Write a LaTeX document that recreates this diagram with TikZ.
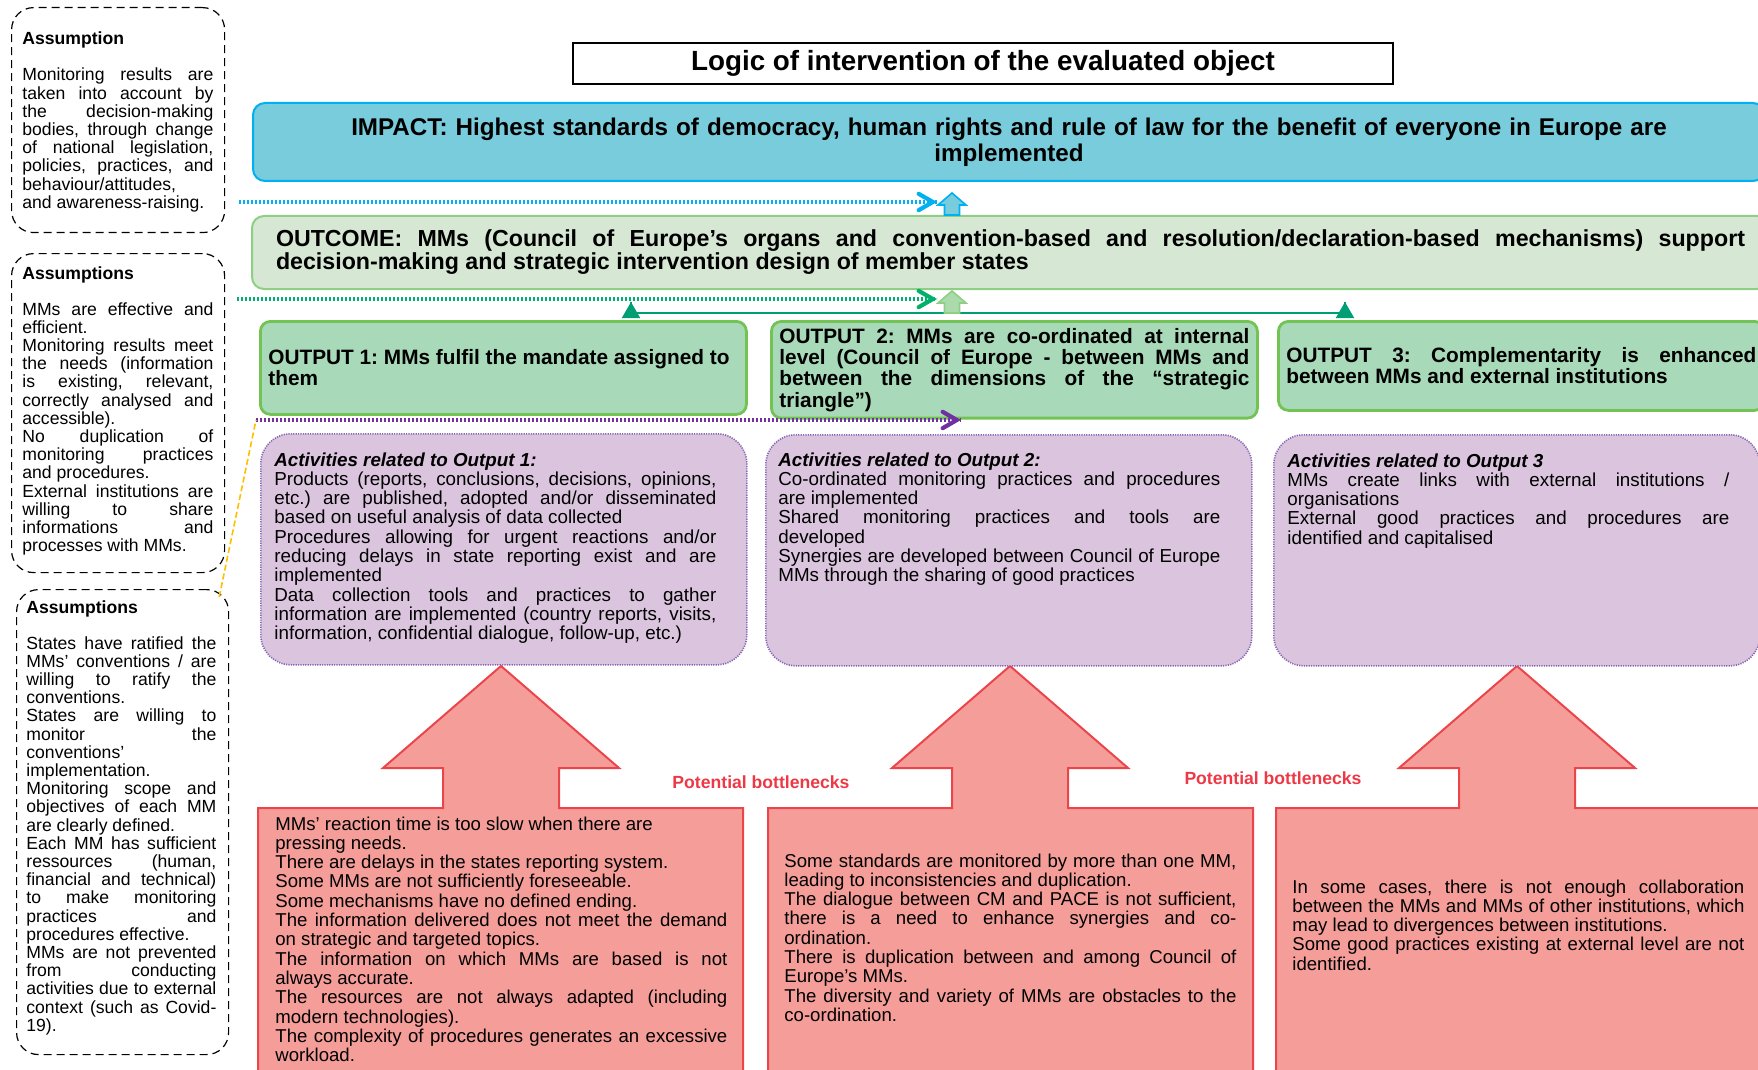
\documentclass[tikz,border=0pt]{standalone}
\usepackage{fontspec}
\setmainfont{Liberation Sans}
\usetikzlibrary{arrows}
\usetikzlibrary{decorations.markings}
\frenchspacing
\definecolor{impfill}{rgb}{0.47, 0.80, 0.86}
\definecolor{impline}{rgb}{0.0, 0.69, 0.94}
\definecolor{outcfill}{rgb}{0.84, 0.91, 0.83}
\definecolor{outcline}{rgb}{0.56, 0.81, 0.52}
\definecolor{outpfill}{rgb}{0.66, 0.85, 0.72}
\definecolor{outpline}{rgb}{0.45, 0.76, 0.33}
\definecolor{actfill}{rgb}{0.86, 0.77, 0.87}
\definecolor{actline}{rgb}{0.52, 0.40, 0.70}
\definecolor{bnfill}{rgb}{0.96, 0.62, 0.60}
\definecolor{bnline}{rgb}{0.92, 0.27, 0.30}
\definecolor{bnred}{rgb}{0.93, 0.22, 0.27}
\definecolor{dblue}{rgb}{0.0, 0.69, 0.94}
\definecolor{dgreen}{rgb}{0.0, 0.69, 0.42}
\definecolor{dpurple}{rgb}{0.44, 0.19, 0.63}
\definecolor{lteal}{rgb}{0.0, 0.62, 0.45}
\definecolor{lorange}{rgb}{1.0, 0.75, 0.0}
\definecolor{upgreen}{rgb}{0.67, 0.86, 0.67}
\newcommand{\tightpar}{\tolerance=10000 \hyphenpenalty=10000 \exhyphenpenalty=10000 }
\tikzset{upto/.style = {decoration={markings,
                                    mark=at position 1 with {\arrow[scale=1.1]{triangle 60}}},
                        postaction={decorate}}}
\tikzset{chev/.style = {decoration={markings,
                                    mark=at position 1 with {\arrow[scale=1.3]{angle 60}}},
                        postaction={decorate}}}
\tikzset{dotline/.style = {line width = 1.6pt, dash pattern = on 1.2pt off 0.8pt}}
\tikzset{titlebox/.style = {draw, line width = 0.7pt, minimum width = 410pt, minimum height = 20.5pt,
                            font = \fontsize{13.9}{16}\selectfont\bfseries}}
\tikzset{impactbox/.style = {draw = impline, fill = impfill, line width = 1pt, rounded corners = 6pt,
                             minimum width = 756pt, minimum height = 39pt, text width = 740pt,
                             align = center, font = \fontsize{12.1}{13}\selectfont\bfseries}}
\tikzset{outcomebox/.style = {draw = outcline, fill = outcfill, line width = 1pt, rounded corners = 6pt,
                              anchor = north west, inner xsep = 12pt, text width = 734.5pt,
                              minimum height = 36.5pt, align = justify,
                              font = \fontsize{11.6}{11.5}\selectfont\bfseries\tightpar}}
\tikzset{outputbox/.style = {draw = outpline, fill = outpfill, line width = 1.4pt, rounded corners = 5pt,
                             anchor = north west, inner xsep = 4pt, text width = 235pt,
                             minimum height = 46.5pt, align = justify,
                             font = \fontsize{10.4}{10.65}\selectfont\bfseries\tightpar}}
\tikzset{actbox/.style = {draw = actline, fill = actfill, line width = 0.8pt,
                          dash pattern = on 0.6pt off 0.6pt, rounded corners = 15pt,
                          anchor = north west, minimum width = 243pt, minimum height = 115.5pt}}
\tikzset{acttext/.style = {anchor = base west, inner sep = 0, text width = 221pt, align = justify,
                           font = \fontsize{9.4}{9.65}\selectfont\tightpar}}
\tikzset{bneck/.style = {draw = bnline, fill = bnfill, line width = 1pt}}
\tikzset{bntext/.style = {anchor = base west, inner sep = 0, text width = 226pt, align = justify,
                          font = \fontsize{9.3}{9.65}\selectfont\tightpar}}
\tikzset{bnlabel/.style = {text = bnred, font = \fontsize{8.8}{10}\selectfont\bfseries}}
\tikzset{assbox/.style = {draw, line width = 0.6pt, dash pattern = on 4pt off 2.5pt,
                          rounded corners = 11pt, anchor = north west, minimum width = 106.5pt}}
\tikzset{asstext/.style = {anchor = base west, inner sep = 0, text width = 95.5pt, align = justify,
                           font = \fontsize{8.8}{9.1}\selectfont\tightpar}}

\begin{document}
\begin{tikzpicture}[x = 0.5pt, y = -0.5pt]
    \useasboundingbox (0, 0) rectangle (1758, 1070);
    \clip (0, 0) rectangle (1758, 1070);

    % assumptions
    \node [assbox, minimum height = 112.5pt] (assum1) at (11, 7) {};
    \node [assbox, minimum height = 159.5pt] (assum2) at (11, 253) {};
    \node [assbox, minimum width = 106pt, minimum height = 232.5pt] (assum3) at (16, 589) {};
    \node [asstext] (assum1txt) at (22, 45) {\textbf{Assumption}\par\vspace{8.9pt}
      Monitoring results are\linebreak taken into account by\linebreak the decision-making\linebreak
      bodies, through change\linebreak of national legislation,\linebreak policies, practices, and\linebreak
      behaviour/attitudes,\newline and awareness-raising.};
    \node [asstext] (assum2txt) at (22, 279) {\textbf{Assumptions}\par\vspace{8.9pt}
      MMs are effective and\linebreak efficient.\par
      Monitoring results meet\linebreak the needs (information\linebreak is existing, relevant,\linebreak
      correctly analysed and\linebreak accessible).\par
      No duplication of\linebreak monitoring practices\linebreak and procedures.\par
      External institutions are\linebreak willing to share\linebreak informations and\linebreak
      processes with MMs.};
    \node [asstext, text width = 95pt] (assum3txt) at (26, 613) {\textbf{Assumptions}\par\vspace{8.9pt}
      States have ratified the\linebreak MMs' conventions / are\linebreak willing to ratify the\linebreak
      conventions.\par
      States are willing to\linebreak monitor the\linebreak conventions'\newline implementation.\par
      Monitoring scope and\linebreak objectives of each MM\linebreak are clearly defined.\par
      Each MM has sufficient\linebreak ressources (human,\linebreak financial and technical)\linebreak
      to make monitoring\linebreak practices and\linebreak procedures effective.\par
      MMs are not prevented\linebreak from conducting\linebreak activities due to external\linebreak
      context (such as Covid-\linebreak 19).};

    % logic of intervention
    \node [titlebox] (title) at (983, 63.5) {Logic of intervention of the evaluated object};
    \node [impactbox] (impact) at (1009, 142) {IMPACT: Highest standards of democracy, human rights
      and rule of law for the benefit of everyone in Europe are\\ implemented};
    \node [outcomebox] (outcome) at (251, 215) {OUTCOME: MMs (Council of Europe’s organs and
      convention-based and resolution/declaration-based mechanisms) support\linebreak
      decision-making and strategic intervention design of member states};

    \node [outputbox] (out1) at (259, 320) {OUTPUT 1: MMs fulfil the mandate assigned to\newline them};
    \node [outputbox] (out2) at (770, 320) {OUTPUT 2: MMs are co-ordinated at internal\linebreak
      level (Council of Europe - between MMs and\linebreak between the dimensions of the “strategic\linebreak
      triangle”)};
    \node [outputbox, minimum height = 44.5pt] (out3) at (1277, 320) {OUTPUT 3: Complementarity is
      enhanced\linebreak between MMs and external institutions};

    % bottlenecks
    \foreach \cx/\lx/\rx in {501/258/743, 1010/768/1253, 1517/1276/1790} {
      \draw [bneck] (\lx, 1090) -- (\lx, 808) -- ({\cx-58}, 808) -- ({\cx-58}, 768)
        -- ({\cx-118}, 768) -- (\cx, 666) -- ({\cx+118}, 768) -- ({\cx+58}, 768)
        -- ({\cx+58}, 808) -- (\rx, 808) -- (\rx, 1090) -- cycle;
    }
    \node [bnlabel] (pb1) at (761, 782) {Potential bottlenecks};
    \node [bnlabel] (pb2) at (1273, 778) {Potential bottlenecks};

    \node [bntext] (bn1) at (275, 830) {MMs' reaction time is too slow when there are\newline pressing needs.\par
      There are delays in the states reporting system.\par
      Some MMs are not sufficiently foreseeable.\par
      Some mechanisms have no defined ending.\par
      The information delivered does not meet the demand\linebreak on strategic and targeted topics.\par
      The information on which MMs are based is not\linebreak always accurate.\par
      The resources are not always adapted (including\linebreak modern technologies).\par
      The complexity of procedures generates an excessive\linebreak workload.};
    \node [bntext] (bn2) at (784, 867) {Some standards are monitored by more than one MM,\linebreak
      leading to inconsistencies and duplication.\par
      The dialogue between CM and PACE is not sufficient,\linebreak there is a need to enhance
      synergies and co-\linebreak ordination.\par
      There is duplication between and among Council of\linebreak Europe’s MMs.\par
      The diversity and variety of MMs are obstacles to the\linebreak co-ordination.};
    \node [bntext] (bn3) at (1292, 893) {In some cases, there is not enough collaboration\linebreak
      between the MMs and MMs of other institutions, which\linebreak
      may lead to divergences between institutions.\par
      Some good practices existing at external level are not\linebreak identified.};

    % activities
    \node [actbox] (act1) at (260, 433) {};
    \node [actbox] (act2) at (765, 434) {};
    \node [actbox] (act3) at (1273, 434) {};
    \node [acttext] (act1txt) at (274, 466) {\textbf{\textit{Activities related to Output 1:}}\par
      Products (reports, conclusions, decisions, opinions,\linebreak etc.) are published, adopted and/or
      disseminated\linebreak based on useful analysis of data collected\par
      Procedures allowing for urgent reactions and/or\linebreak reducing delays in state reporting exist
      and are\linebreak implemented\par
      Data collection tools and practices to gather\linebreak information are implemented (country
      reports, visits,\linebreak information, confidential dialogue, follow-up, etc.)};
    \node [acttext] (act2txt) at (778, 466) {\textbf{\textit{Activities related to Output 2:}}\par
      Co-ordinated monitoring practices and procedures\linebreak are implemented\par
      Shared monitoring practices and tools are\linebreak developed\par
      Synergies are developed between Council of Europe\linebreak MMs through the sharing of good practices};
    \node [acttext] (act3txt) at (1287, 467) {\textbf{\textit{Activities related to Output 3}}\par
      MMs create links with external institutions /\linebreak organisations\par
      External good practices and procedures are\linebreak identified and capitalised};

    % dotted links
    \coordinate (bstart) at (239, 202);
    \coordinate (bend) at (937, 202);
    \coordinate (gstart) at (237, 299);
    \coordinate (gend) at (937, 299);
    \coordinate (pstart) at (256, 420);
    \coordinate (pend) at (961, 420);
    \draw [dblue, dotline, chev] (bstart) -- (bend);
    \draw [dgreen, dotline, chev] (gstart) -- (gend);
    \draw [dpurple, dotline, chev] (pstart) -- (pend);
    \draw [lorange, line width = 0.8pt, dash pattern = on 3pt off 1.5pt]
      ([xshift = -5pt, yshift = -4pt]assum3.north east) -- (pstart);

    % upward links
    \coordinate (axis) at (952, 0);
    \coordinate (gl) at (631, 313);
    \coordinate (gr) at (1345, 313);
    \draw [lteal, line width = 1pt] (gl) -- (gr);
    \draw [lteal, line width = 1pt, upto] (gl) -- ++(0, -11);
    \draw [lteal, line width = 1pt, upto] (gr) -- ++(0, -11);
    \draw [impline, fill = impfill, line width = 0.8pt] (outcome.north -| axis) ++(-7.5, 0)
      -- ++(0, -10) -- ++(-6.5, 0) -- ++(14, -12) -- ++(14, 12) -- ++(-6.5, 0) -- ++(0, 10) -- cycle;
    \draw [outcline, fill = upgreen, line width = 0.8pt] (gl -| axis) ++(-7.5, 0)
      -- ++(0, -10) -- ++(-6.5, 0) -- ++(14, -12) -- ++(14, 12) -- ++(-6.5, 0) -- ++(0, 10) -- cycle;
\end{tikzpicture}
\end{document}
